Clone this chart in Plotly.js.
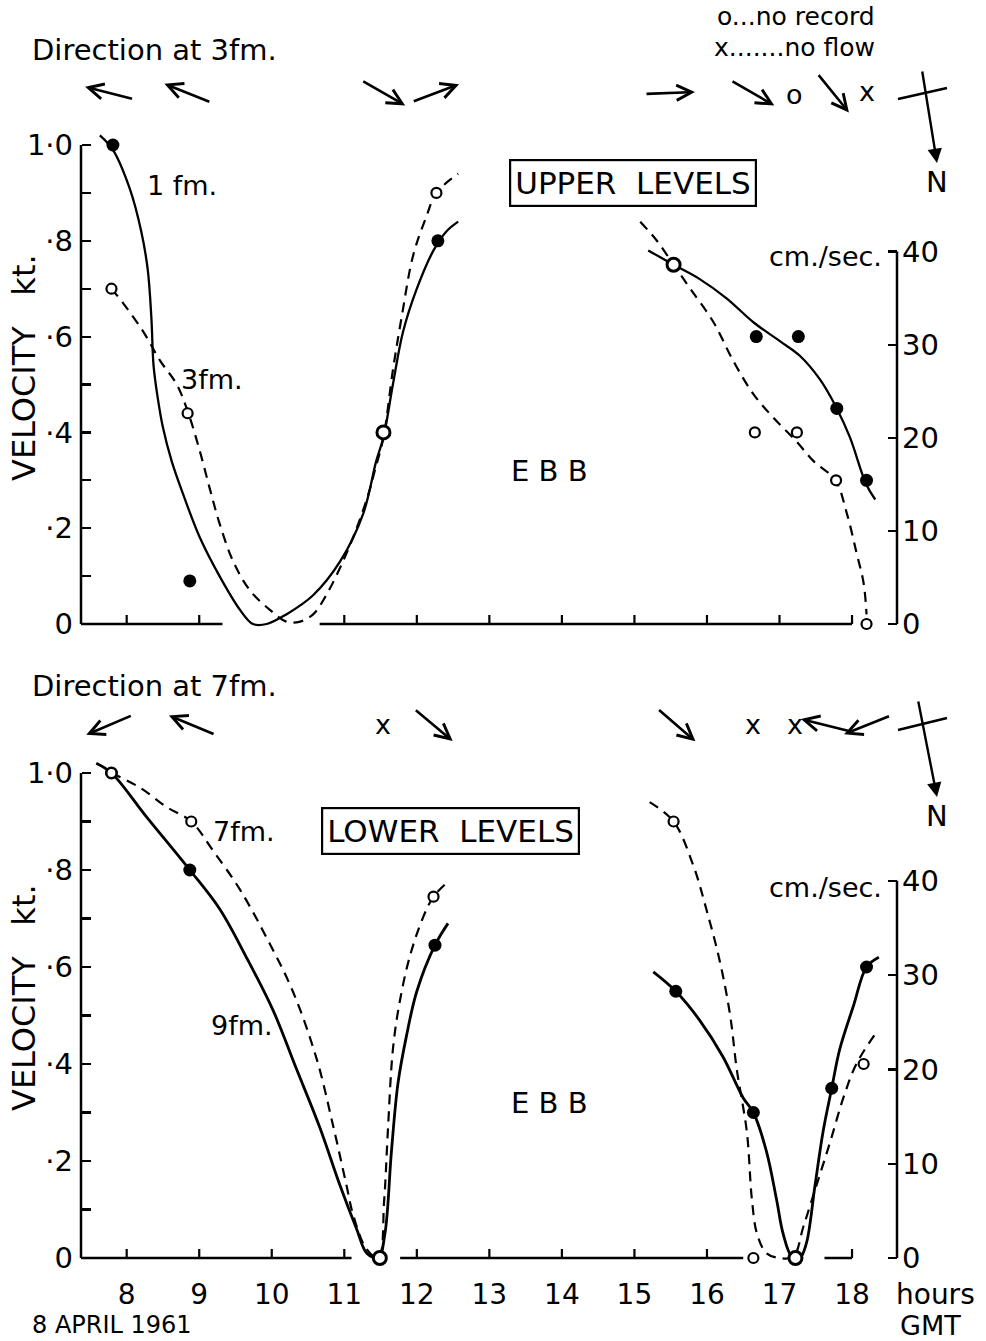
<!DOCTYPE html>
<html><head><meta charset="utf-8">
<script src="https://cdn.plot.ly/plotly-3.0.1.min.js"></script>
<style>html,body{margin:0;padding:0;background:#fff}#chart{width:986px;height:1341px}</style>
</head><body><div id="chart"></div>
<script>
// ---------------- DATA (hours GMT, velocity in knots) ----------------
// UPPER LEVELS
const up1fmHoursA = [7.63,7.81,8.04,8.20,8.29,8.34,8.37,8.42,8.50,8.62,8.78,9.01,9.28,9.56,9.74,9.93,10.20,10.57,10.94,11.26,11.44,11.54,11.67,11.81,12.00,12.23,12.41,12.57];
const up1fmKtA    = [1.02,0.99,0.91,0.82,0.74,0.64,0.54,0.48,0.41,0.34,0.27,0.18,0.10,0.03,0.00,0.00,0.02,0.06,0.13,0.23,0.34,0.39,0.50,0.61,0.70,0.78,0.82,0.84];
const up3fmHoursA = [7.79,7.95,8.23,8.46,8.69,8.85,9.01,9.15,9.28,9.47,9.70,9.97,10.20,10.39,10.57,10.75,10.98,11.17,11.33,11.42,11.54,11.67,11.79,11.95,12.13,12.27,12.57];
const up3fmKtA    = [0.70,0.67,0.61,0.55,0.50,0.44,0.36,0.28,0.21,0.13,0.07,0.03,0.005,0.005,0.02,0.06,0.13,0.20,0.27,0.32,0.39,0.53,0.64,0.77,0.85,0.90,0.94];
const up1fmHoursB = [15.19,15.54,15.90,16.27,16.64,17.01,17.28,17.56,17.79,17.97,18.20,18.32];
const up1fmKtB    = [0.78,0.75,0.72,0.68,0.63,0.59,0.56,0.51,0.45,0.39,0.29,0.26];
const up3fmHoursB = [15.08,15.31,15.54,15.77,16.09,16.36,16.64,16.92,17.24,17.47,17.77,17.93,18.06,18.16,18.20];
const up3fmKtB    = [0.84,0.80,0.75,0.70,0.63,0.55,0.48,0.43,0.38,0.34,0.30,0.23,0.15,0.085,0.02];
const up1fmObsHours = [7.81,8.87,12.29,16.68,17.26,17.79,18.20];
const up1fmObsKt    = [1.00,0.09,0.80,0.60,0.60,0.45,0.30];
const up3fmObsHours = [7.79,8.84,12.27,16.66,17.24,17.78,18.20];
const up3fmObsKt    = [0.70,0.44,0.90,0.40,0.40,0.30,0.00];
const upBothObsHours = [11.54,15.54];
const upBothObsKt    = [0.40,0.75];
// LOWER LEVELS
const lo9fmHoursA = [7.58,7.79,8.27,8.87,9.28,9.65,10.02,10.34,10.66,10.94,11.17,11.31,11.47,11.56,11.65,11.74,11.86,12.00,12.25,12.43];
const lo9fmKtA    = [1.02,1.00,0.91,0.80,0.72,0.62,0.51,0.39,0.27,0.15,0.06,0.01,0.00,0.05,0.22,0.36,0.46,0.55,0.645,0.69];
const lo7fmHoursA = [7.79,8.18,8.55,8.89,9.19,9.56,9.93,10.29,10.62,10.85,11.03,11.12,11.30,11.47,11.55,11.60,11.67,11.76,11.90,12.08,12.23,12.46];
const lo7fmKtA    = [1.00,0.97,0.93,0.90,0.84,0.76,0.66,0.55,0.41,0.27,0.15,0.09,0.02,0.00,0.12,0.26,0.43,0.525,0.62,0.70,0.745,0.78];
const lo9fmHoursB = [15.26,15.57,15.90,16.22,16.50,16.64,16.82,16.96,17.05,17.17,17.28,17.37,17.49,17.60,17.72,17.83,18.02,18.20,18.37];
const lo9fmKtB    = [0.59,0.55,0.49,0.415,0.33,0.30,0.22,0.12,0.05,0.003,0.00,0.03,0.15,0.26,0.35,0.43,0.52,0.60,0.62];
const lo7fmHoursB = [15.21,15.54,15.81,15.99,16.18,16.32,16.41,16.55,16.62,16.69,16.82,17.00,17.19,17.33,17.51,17.70,17.88,18.06,18.31];
const lo7fmKtB    = [0.94,0.90,0.81,0.72,0.61,0.50,0.39,0.26,0.12,0.05,0.01,0.00,0.003,0.065,0.15,0.24,0.33,0.40,0.46];
const lo9fmObsHours = [7.79,8.87,12.25,15.57,16.64,17.72,18.20];
const lo9fmObsKt    = [1.00,0.80,0.645,0.55,0.30,0.35,0.60];
const lo7fmObsHours = [7.79,8.89,12.23,15.54,16.64,18.16];
const lo7fmObsKt    = [1.00,0.90,0.745,0.90,0.00,0.40];
const loBothObsHours = [11.49,17.22];
const loBothObsKt    = [0.00,0.00];
// Current direction arrows (hour of reading, drawn angle in degrees)
const upDirHours = [7.76,8.84,11.54,12.26,15.49,16.63,17.74];
const upDirDeg   = [165.7,158.2,-29.7,20.6,2.1,-30,-51];
const upNoRecordHours = [17.21];
const upNoFlowHours   = [18.21];
const loDirHours = [7.76,8.90,12.23,15.58,17.63,18.21];
const loDirDeg   = [203.1,157.4,-40,-40.9,166,201.8];
const loNoFlowHours = [11.53,16.63,17.21];
// Axis ticks / labels
const hourTicks = [8,9,10,11,12,13,14,15,16,17,18];
const hourLabels = ['8','9','10','11','12','13','14','15','16','17','18'];
const ktTicks = [0,0.1,0.2,0.3,0.4,0.5,0.6,0.7,0.8,0.9,1.0];
const ktLabels = ['0','','·2','','·4','','·6','','·8','','1·0'];
const cmsTicks = [0,10,20,30,40];
const cmsLabels = ['0','10','20','30','40'];
const KT_TO_CMS = 51.44;

// ---------------- LAYOUT GEOMETRY ----------------
const W = 986, H = 1341;
const FONT = 'DejaVu Sans, Liberation Sans, sans-serif';
const AX_L = 7.37, AX_R = 18.62;           // hour positions of vertical axes
const PX_L = 81, PX_R = 897;
const PPH = (PX_R - PX_L) / (AX_R - AX_L);  // px per hour
const XR = [7.30, 18.70];
const xDom = [(PX_L - (AX_L - XR[0]) * PPH) / W, (PX_R + (XR[1] - AX_R) * PPH) / W];
const YR = [-0.015, 1.04];
function yDom(zeroPx, ppu) {
  return [1 - (zeroPx - YR[0] * ppu) / H, 1 - (zeroPx - YR[1] * ppu) / H];
}
const UP0 = 624, UPPU = 479, LO0 = 1258, LOPU = 485;
const px = p => p / W, py = p => 1 - p / H;

const black = '#000';
function lineTrace(x, y, xa, ya, dashed, w) {
  return {x, y, xaxis: xa, yaxis: ya, type: 'scatter', mode: 'lines', hoverinfo: 'skip',
    line: {color: black, width: w, shape: 'spline', smoothing: 1.0, dash: dashed ? '10px,7px' : 'solid'}};
}
function markTrace(x, y, xa, ya, kind) {
  const m = kind === 'filled' ? {size: 13, color: black, line: {width: 0}}
          : kind === 'open' ? {size: 10, color: '#fff', line: {color: black, width: 2.2}}
          : {size: 13, color: '#fff', line: {color: black, width: 3}};
  return {x, y, xaxis: xa, yaxis: ya, type: 'scatter', mode: 'markers', marker: m, cliponaxis: false, hoverinfo: 'skip'};
}

const data = [
  lineTrace(up1fmHoursA, up1fmKtA, 'x', 'y', false, 2.3),
  lineTrace(up3fmHoursA, up3fmKtA, 'x', 'y', true, 2.2),
  lineTrace(up1fmHoursB, up1fmKtB, 'x', 'y', false, 2.3),
  lineTrace(up3fmHoursB, up3fmKtB, 'x', 'y', true, 2.2),
  markTrace(up1fmObsHours, up1fmObsKt, 'x', 'y', 'filled'),
  markTrace(up3fmObsHours, up3fmObsKt, 'x', 'y', 'open'),
  markTrace(upBothObsHours, upBothObsKt, 'x', 'y', 'thick'),
  lineTrace(lo9fmHoursA, lo9fmKtA, 'x2', 'y3', false, 2.8),
  lineTrace(lo7fmHoursA, lo7fmKtA, 'x2', 'y3', true, 2.2),
  lineTrace(lo9fmHoursB, lo9fmKtB, 'x2', 'y3', false, 2.8),
  lineTrace(lo7fmHoursB, lo7fmKtB, 'x2', 'y3', true, 2.2),
  markTrace(lo9fmObsHours, lo9fmObsKt, 'x2', 'y3', 'filled'),
  markTrace(lo7fmObsHours, lo7fmObsKt, 'x2', 'y3', 'open'),
  markTrace(loBothObsHours, loBothObsKt, 'x2', 'y3', 'thick'),
  // invisible traces to activate right-hand cm/sec axes
  {x: [XR[0]], y: [0], xaxis: 'x', yaxis: 'y2', type: 'scatter', mode: 'markers', marker: {opacity: 0}, hoverinfo: 'skip'},
  {x: [XR[0]], y: [0], xaxis: 'x2', yaxis: 'y4', type: 'scatter', mode: 'markers', marker: {opacity: 0}, hoverinfo: 'skip'}
];

const tickFont = {family: FONT, size: 29, color: black};
function kAxis(dom) {
  return {domain: dom, range: YR, anchor: 'free', position: px(PX_L), showgrid: false, zeroline: false, showline: false,
    tickmode: 'array', tickvals: ktTicks, ticktext: ktLabels, ticks: 'inside', ticklen: 9, tickwidth: 2.2, tickcolor: black,
    tickfont: tickFont, ticklabelstandoff: 8, fixedrange: true};
}
function cAxis(over) {
  return {range: [YR[0] * KT_TO_CMS, YR[1] * KT_TO_CMS], overlaying: over, side: 'right', anchor: 'free', position: px(PX_R),
    showgrid: false, zeroline: false, showline: false, tickmode: 'array', tickvals: cmsTicks, ticktext: cmsLabels,
    ticks: 'inside', ticklen: 9, tickwidth: 2.2, tickcolor: black, tickfont: tickFont, ticklabelstandoff: 4, fixedrange: true};
}

const layout = {
  width: W, height: H, margin: {l: 0, r: 0, t: 0, b: 0}, showlegend: false,
  paper_bgcolor: '#fff', plot_bgcolor: 'rgba(0,0,0,0)', font: {family: FONT, color: black},
  xaxis: {domain: xDom, range: XR, anchor: 'y', showgrid: false, zeroline: false, showline: false, ticks: '', showticklabels: false, fixedrange: true},
  xaxis2: {domain: xDom, range: XR, anchor: 'y3', showgrid: false, zeroline: false, showline: false, ticks: '',
    tickmode: 'array', tickvals: hourTicks, ticktext: hourLabels, tickfont: {family: FONT, size: 28, color: black}, ticklabelstandoff: 10, fixedrange: true},
  yaxis: kAxis(yDom(UP0, UPPU)),
  yaxis2: cAxis('y'),
  yaxis3: kAxis(yDom(LO0, LOPU)),
  yaxis4: cAxis('y3'),
  shapes: [], annotations: []
};

// axis lines (broken where the curves touch the base line, as in the original)
const axLine = {color: black, width: 2.5};
function hline(xa, ya, x0, x1) { layout.shapes.push({type: 'line', xref: xa, yref: ya, x0, x1, y0: 0, y1: 0, line: axLine}); }
function vline(xa, ya, x, y0, y1) { layout.shapes.push({type: 'line', xref: xa, yref: ya, x0: x, x1: x, y0, y1, line: axLine}); }
vline('x', 'y', AX_L, 0, 1.0); vline('x', 'y2', AX_R, 0, 40);
hline('x', 'y', AX_L, 9.32); hline('x', 'y', 10.66, 18.0);
vline('x2', 'y3', AX_L, 0, 1.0); vline('x2', 'y4', AX_R, 0, 40);
hline('x2', 'y3', AX_L, 11.10); hline('x2', 'y3', 11.77, 16.50); hline('x2', 'y3', 17.62, 18.0);
hourTicks.forEach(h => {
  if (h !== 10) layout.shapes.push({type: 'line', xref: 'x', yref: 'y', x0: h, x1: h, y0: 0, y1: 9 / UPPU, line: {color: black, width: 2.2}});
  if (h !== 17) layout.shapes.push({type: 'line', xref: 'x2', yref: 'y3', x0: h, x1: h, y0: 0, y1: 9 / LOPU, line: {color: black, width: 2.2}});
});

// text helpers
const A = layout.annotations;
function txt(text, x, y, opts) {
  A.push(Object.assign({text, x, y, xref: 'paper', yref: 'paper', showarrow: false, xanchor: 'center', yanchor: 'middle',
    font: {family: FONT, size: 26, color: black}}, opts || {}));
}
// direction arrows
const L = 50;
function arrows(hours, degs, xa, rowPy) {
  hours.forEach((h, i) => {
    const t = degs[i] * Math.PI / 180, c = Math.cos(t), s = Math.sin(t);
    A.push({text: '', xref: xa, yref: 'paper', x: h + (L / 2) * c / PPH, y: py(rowPy - (L / 2) * s),
      ax: -L * c, ay: L * s, showarrow: true, arrowhead: 5, arrowsize: 1.15, arrowwidth: 2.6, arrowcolor: black, standoff: 0});
  });
}
function marks(hours, ch, xa, rowPy) {
  hours.forEach(h => A.push({text: ch, xref: xa, yref: 'paper', x: h, y: py(rowPy), showarrow: false,
    font: {family: FONT, size: 27, color: black}, xanchor: 'center', yanchor: 'middle'}));
}
function compass(topPy, crossY0, crossY1, headPy) {
  layout.shapes.push({type: 'line', xref: 'paper', yref: 'paper', x0: px(898), x1: px(947), y0: py(crossY0), y1: py(crossY1), line: {color: black, width: 2.5}});
  A.push({text: '', xref: 'paper', yref: 'paper', x: px(937), y: py(headPy), ax: (topPy[0] - 937), ay: (topPy[1] - headPy),
    showarrow: true, arrowhead: 2, arrowsize: 1.2, arrowwidth: 2.4, arrowcolor: black, standoff: 0});
  txt('N', px(937), py(headPy + 19), {font: {family: FONT, size: 29, color: black}});
}

// upper panel texts
txt('Direction at 3fm.', px(30), py(50), {xanchor: 'left', font: {family: FONT, size: 29, color: black}});
txt('o...no record', px(877), py(16), {xanchor: 'right', font: {family: FONT, size: 25, color: black}});
txt('x.......no flow', px(877), py(47), {xanchor: 'right', font: {family: FONT, size: 25, color: black}});
arrows(upDirHours, upDirDeg, 'x', 93);
marks(upNoRecordHours, 'o', 'x', 94);
marks(upNoFlowHours, 'x', 'x', 92);
compass([922, 70], 99, 88, 163);
A.push({text: '1 fm.', xref: 'x', yref: 'y', x: 8.25, y: 0.915, showarrow: false, xanchor: 'left', yanchor: 'middle', font: {family: FONT, size: 27, color: black}});
A.push({text: '3fm.', xref: 'x', yref: 'y', x: 8.72, y: 0.51, showarrow: false, xanchor: 'left', yanchor: 'middle', font: {family: FONT, size: 27, color: black}});
A.push({text: 'UPPER  LEVELS', xref: 'x', yref: 'y', x: 14.98, y: 0.92, showarrow: false, bordercolor: black, borderwidth: 2.2, borderpad: 4,
  font: {family: FONT, size: 31, color: black}});
A.push({text: 'E B B', xref: 'x', yref: 'y', x: 13.83, y: 0.32, showarrow: false, font: {family: FONT, size: 29, color: black}});
txt('cm./sec.', px(884), py(257), {xanchor: 'right', font: {family: FONT, size: 27, color: black}});
txt('VELOCITY   kt.', px(24), py(368), {textangle: -90, font: {family: FONT, size: 32, color: black}});

// lower panel texts
txt('Direction at 7fm.', px(30), py(686), {xanchor: 'left', font: {family: FONT, size: 29, color: black}});
arrows(loDirHours, loDirDeg, 'x2', 725);
marks(loNoFlowHours, 'x', 'x2', 724);
compass([918, 700], 730, 718, 797);
A.push({text: '7fm.', xref: 'x2', yref: 'y3', x: 9.16, y: 0.88, showarrow: false, xanchor: 'left', yanchor: 'middle', font: {family: FONT, size: 27, color: black}});
A.push({text: '9fm.', xref: 'x2', yref: 'y3', x: 9.13, y: 0.48, showarrow: false, xanchor: 'left', yanchor: 'middle', font: {family: FONT, size: 27, color: black}});
A.push({text: 'LOWER  LEVELS', xref: 'x2', yref: 'y3', x: 12.47, y: 0.88, showarrow: false, bordercolor: black, borderwidth: 2.2, borderpad: 4,
  font: {family: FONT, size: 31, color: black}});
A.push({text: 'E B B', xref: 'x2', yref: 'y3', x: 13.83, y: 0.32, showarrow: false, font: {family: FONT, size: 29, color: black}});
txt('cm./sec.', px(884), py(887), {xanchor: 'right', font: {family: FONT, size: 27, color: black}});
txt('VELOCITY   kt.', px(24), py(998), {textangle: -90, font: {family: FONT, size: 32, color: black}});

txt('hours', px(935), py(1294), {font: {family: FONT, size: 28, color: black}});
txt('GMT', px(930), py(1325), {font: {family: FONT, size: 27, color: black}});
txt('8 APRIL 1961', px(30), py(1325), {xanchor: 'left', font: {family: FONT, size: 24, color: black}});

Plotly.newPlot('chart', data, layout, {displayModeBar: false, staticPlot: true});
</script>
</body></html>
